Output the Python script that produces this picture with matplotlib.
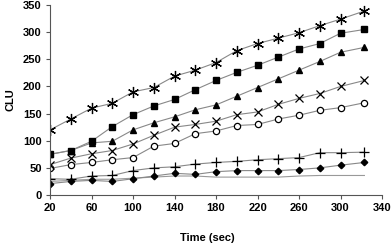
import matplotlib.pyplot as plt

plt.rcParams["font.family"] = ["Liberation Sans", "DejaVu Sans"]
plt.rcParams["font.weight"] = "bold"

time_sec = [20, 40, 60, 80, 100, 120, 140, 160, 180, 200, 220, 240, 260, 280, 300, 323]

clu_star = [120, 140, 160, 169, 190, 198, 219, 230, 244, 266, 279, 289, 299, 312, 324, 339]
clu_square = [75, 82, 99, 126, 148, 164, 176, 194, 211, 226, 239, 254, 269, 279, 298, 305]
clu_triangle = [75, 82, 96, 99, 120, 133, 144, 157, 166, 182, 198, 214, 230, 246, 263, 272]
clu_cross = [56, 68, 76, 82, 94, 110, 125, 130, 136, 148, 153, 167, 178, 187, 200, 211]
clu_circle = [49, 56, 60, 65, 69, 90, 95, 113, 118, 128, 130, 140, 147, 156, 161, 170]
clu_plus = [30, 29, 35, 36, 45, 50, 52, 57, 60, 62, 65, 67, 69, 78, 78, 79]
clu_diamond = [21, 25, 27, 25, 30, 35, 40, 38, 43, 45, 45, 45, 47, 50, 55, 60]
clu_plain = [25, 27, 29, 29, 31, 33, 35, 35, 33, 33, 33, 33, 35, 36, 36, 36]

fig = plt.figure(figsize=(3.92, 2.45), dpi=100)
ax = fig.add_axes([0.1276, 0.204, 0.847, 0.7755])

line_kw = dict(color="#888888", linewidth=0.8, markeredgecolor="black", markerfacecolor="black")

ax.plot(time_sec, clu_plain, color="#999999", linewidth=0.8)
ax.plot(time_sec, clu_diamond, marker="D", markersize=3.3, **line_kw)
ax.plot(time_sec, clu_plus, marker="+", markersize=7, markeredgewidth=0.9, **line_kw)
ax.plot(time_sec, clu_circle, marker="o", markersize=4.5, markeredgewidth=0.9,
        color="#888888", linewidth=0.8, markeredgecolor="black", markerfacecolor="white")
ax.plot(time_sec, clu_cross, marker="x", markersize=6, markeredgewidth=0.9, **line_kw)
ax.plot(time_sec, clu_triangle, marker="^", markersize=4.5, **line_kw)
ax.plot(time_sec, clu_square, marker="s", markersize=4.5, **line_kw)
ax.plot(time_sec, clu_star, marker=(6, 2, 0), markersize=8, markeredgewidth=0.9, **line_kw)

ax.set_xlim(20, 340)
ax.set_ylim(0, 350)
ax.set_xticks(range(20, 341, 40))
ax.set_yticks(range(0, 351, 50))
ax.spines["top"].set_visible(False)
ax.spines["right"].set_visible(False)
ax.spines["left"].set_color("#555555")
ax.spines["bottom"].set_color("#555555")
ax.tick_params(labelsize=8, length=3, color="#555555", pad=3)
for lab in ax.get_xticklabels() + ax.get_yticklabels():
    lab.set_fontweight("bold")

ax.set_xlabel("Time (sec)", fontsize=8, fontweight="bold")
ax.set_ylabel("CLU", fontsize=8, fontweight="bold")
ax.xaxis.set_label_coords(0.473, -0.2)
ax.yaxis.set_label_coords(-0.105, 0.5)

fig.savefig("out.png", dpi=100)
